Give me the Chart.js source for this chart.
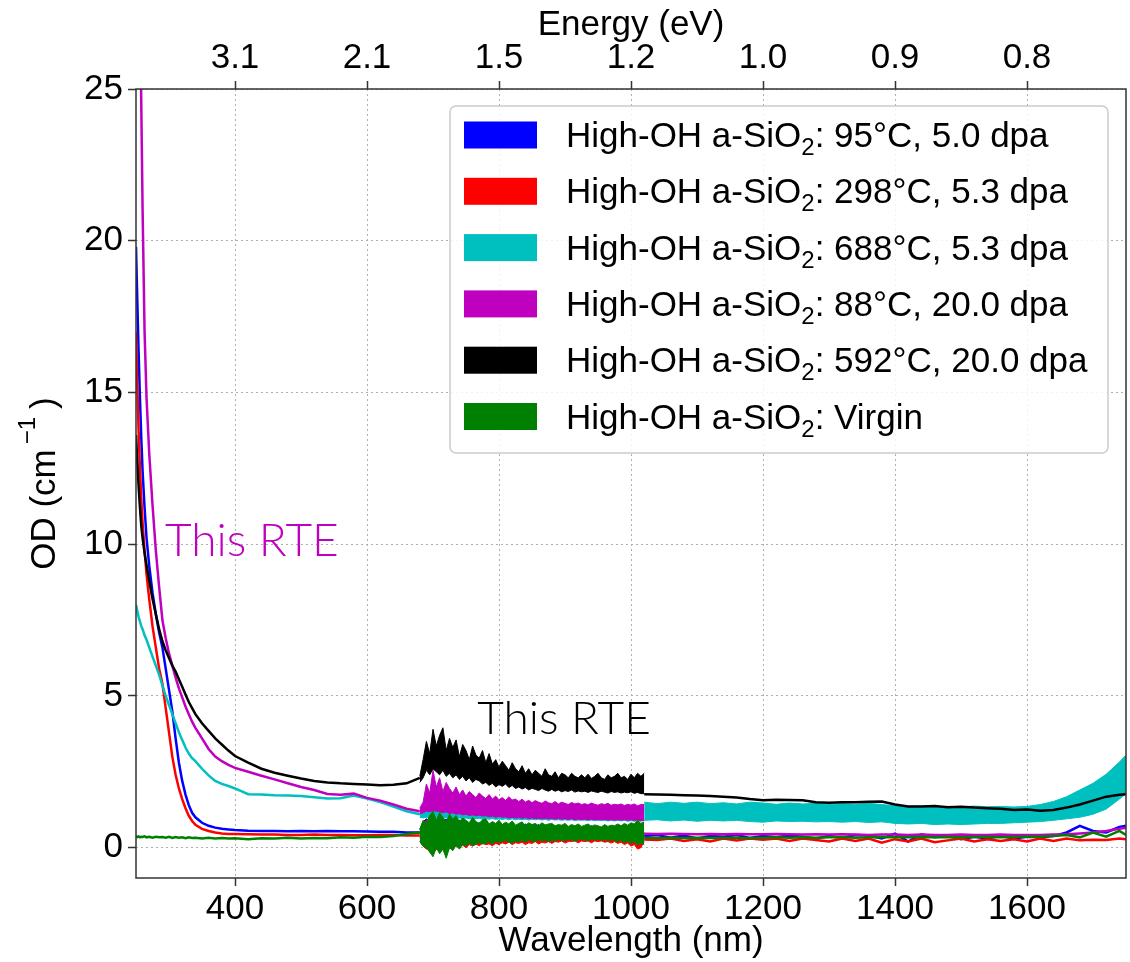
<!DOCTYPE html>
<html>
<head>
<meta charset="utf-8">
<script src="https://cdn.jsdelivr.net/npm/chart.js@4.4.1/dist/chart.umd.min.js"></script>
<style>
html, body { margin: 0; padding: 0; background: #fff; }
#wrap { width: 1130px; height: 962px; }
</style>
</head>
<body>
<div id="wrap"><canvas id="c" width="1130" height="962"></canvas></div>
<script>
// axis ticks
var wlTicks = [400, 600, 800, 1000, 1200, 1400, 1600];
var energyLabels = ["3.1", "2.1", "1.5", "1.2", "1.0", "0.9", "0.8"];
var odTicks = [0, 5, 10, 15, 20, 25];

// legend text (prefix + subscript + rest)
var legendRest = ["95\u00B0C, 5.0 dpa", "298\u00B0C, 5.3 dpa", "688\u00B0C, 5.3 dpa",
                  "88\u00B0C, 20.0 dpa", "592\u00B0C, 20.0 dpa", "Virgin"];

// wavelength grids (nm)
var smoothWl = [250,252,254,256,258,260,263,266,270,275,
                280,285,290,295,300,305,310,315,320,325,
                330,335,340,350,360,370,380,390,400,420,
                440,460,480,500,520,540,560,580,600,620,
                640,660,680];
var noisyWl = [680,685,690,695,700,705,710,715,720,725,
               730,735,740,745,750,755,760,765,770,775,
               780,785,790,795,800,805,810,815,820,825,
               830,835,840,845,850,855,860,865,870,875,
               880,885,890,895,900,905,910,915,920,925,
               930,935,940,945,950,955,960,965,970,975,
               980,985,990,995,1000,1005,1010,1015,1020];
var tailWl = [1020,1040,1060,1080,1100,1120,1140,1160,1180,1200,
              1220,1240,1260,1280,1300,1320,1340,1360,1380,1400,
              1420,1440,1460,1480,1500,1520,1540,1560,1580,1600,
              1620,1640,1660,1680,1700,1720,1740,1750];

// 95C 5.0 dpa (blue)
var blueSmooth = [19.8,18.0,16.3,14.8,13.5,12.4,11.2,10.2,9.3,8.4,
                  7.7,7.1,6.6,5.9,5.2,4.5,3.6,2.8,2.2,1.75,
                  1.4,1.15,1.0,0.82,0.72,0.66,0.62,0.6,0.58,0.56,
                  0.55,0.55,0.54,0.55,0.54,0.55,0.54,0.54,0.53,0.52,
                  0.52,0.5,0.5];
var blueHi = [0.6,0.85,0.95,0.85,1.05,0.9,1.0,0.85,0.95,0.82,
              0.9,0.8,0.92,0.8,0.85,0.78,0.88,0.76,0.82,0.75,
              0.85,0.74,0.8,0.72,0.82,0.7,0.78,0.7,0.8,0.7,
              0.76,0.68,0.78,0.68,0.74,0.68,0.76,0.66,0.72,0.66,
              0.74,0.66,0.72,0.66,0.74,0.65,0.7,0.65,0.72,0.64,
              0.7,0.64,0.72,0.63,0.7,0.64,0.68,0.62,0.7,0.62,
              0.72,0.64,0.74,0.64,0.75,0.66,0.8,0.7,0.45];
var blueLo = [0.35,0.2,0.05,0.15,-0.1,0.05,0.0,0.1,-0.05,0.1,
              0.1,0.15,0.12,0.18,0.1,0.2,0.15,0.22,0.14,0.22,
              0.18,0.24,0.15,0.24,0.2,0.26,0.18,0.26,0.2,0.26,
              0.22,0.28,0.2,0.27,0.24,0.28,0.22,0.28,0.24,0.29,
              0.22,0.28,0.26,0.3,0.24,0.28,0.27,0.3,0.25,0.3,
              0.28,0.3,0.25,0.3,0.28,0.3,0.26,0.29,0.25,0.3,
              0.24,0.28,0.2,0.26,0.18,0.22,0.15,0.2,0.35];
var blueTail = [0.38,0.42,0.33,0.4,0.3,0.38,0.36,0.42,0.32,0.38,
                0.34,0.4,0.36,0.3,0.38,0.32,0.42,0.4,0.3,0.46,
                0.2,0.44,0.34,0.38,0.28,0.36,0.3,0.38,0.3,0.36,
                0.34,0.38,0.5,0.72,0.55,0.5,0.68,0.72];

// 298C 5.3 dpa (red)
var redSmooth = [17.0,15.2,13.7,12.5,11.5,10.7,9.8,9.0,8.2,7.3,
                 6.6,5.9,5.4,4.6,3.8,3.0,2.4,1.95,1.6,1.3,
                 1.05,0.88,0.75,0.62,0.55,0.5,0.47,0.45,0.45,0.44,
                 0.43,0.43,0.42,0.42,0.43,0.42,0.42,0.41,0.41,0.42,
                 0.42,0.4,0.4];
var redHi = [0.6,0.8,0.9,0.8,1.0,0.85,0.95,0.8,0.9,0.78,
             0.85,0.75,0.9,0.75,0.8,0.72,0.85,0.7,0.78,0.7,
             0.8,0.7,0.75,0.68,0.78,0.66,0.72,0.65,0.75,0.65,
             0.7,0.64,0.72,0.62,0.68,0.64,0.7,0.62,0.66,0.62,
             0.68,0.6,0.65,0.62,0.68,0.6,0.64,0.6,0.66,0.6,
             0.63,0.6,0.66,0.58,0.64,0.6,0.62,0.58,0.64,0.58,
             0.66,0.6,0.68,0.6,0.7,0.62,0.75,0.65,0.5];
var redLo = [0.2,0.05,-0.05,0.0,-0.2,-0.05,-0.1,0.0,-0.25,0.0,
             0.0,0.05,0.02,0.08,0.0,0.1,0.05,0.12,0.06,0.14,
             0.1,0.12,0.06,0.14,0.1,0.16,0.12,0.18,0.1,0.16,
             0.14,0.18,0.1,0.16,0.14,0.2,0.12,0.18,0.15,0.2,
             0.14,0.2,0.18,0.22,0.15,0.2,0.2,0.22,0.16,0.22,
             0.2,0.22,0.16,0.22,0.2,0.22,0.18,0.2,0.15,0.2,
             0.14,0.18,0.1,0.15,0.05,0.1,-0.05,0.0,0.2];
var redTail = [0.27,0.25,0.3,0.22,0.28,0.2,0.3,0.24,0.3,0.26,
               0.3,0.22,0.3,0.25,0.2,0.3,0.22,0.3,0.16,0.28,
               0.2,0.3,0.18,0.24,0.3,0.2,0.28,0.22,0.28,0.2,
               0.3,0.22,0.3,0.24,0.26,0.25,0.3,0.28];

// 688C 5.3 dpa (cyan)
var cyanSmooth = [8.0,7.8,7.6,7.45,7.3,7.2,7.0,6.85,6.6,6.3,
                  6.0,5.7,5.35,5.0,4.7,4.4,4.1,3.8,3.55,3.3,
                  3.1,2.95,2.85,2.6,2.38,2.2,2.1,2.03,1.95,1.76,
                  1.75,1.73,1.72,1.7,1.66,1.62,1.63,1.72,1.62,1.5,
                  1.35,1.2,1.1];
var cyanHi = [1.1,1.2,1.3,1.25,1.35,1.28,1.3,1.25,1.28,1.22,
              1.26,1.22,1.25,1.2,1.24,1.2,1.23,1.18,1.22,1.18,
              1.2,1.17,1.2,1.16,1.19,1.16,1.18,1.15,1.18,1.15,
              1.17,1.14,1.17,1.14,1.16,1.14,1.16,1.13,1.15,1.13,
              1.15,1.13,1.15,1.12,1.14,1.12,1.14,1.12,1.13,1.12,
              1.13,1.11,1.13,1.11,1.13,1.11,1.12,1.1,1.12,1.1,
              1.12,1.1,1.12,1.1,1.12,1.1,1.12,1.1,1.3];
var cyanLo = [1.0,0.98,1.0,0.96,1.02,0.97,1.0,0.96,1.0,0.97,
              0.99,0.96,0.98,0.95,0.98,0.95,0.97,0.95,0.97,0.94,
              0.96,0.94,0.96,0.93,0.95,0.93,0.95,0.92,0.95,0.92,
              0.94,0.92,0.94,0.91,0.94,0.92,0.93,0.91,0.93,0.9,
              0.93,0.91,0.92,0.9,0.92,0.9,0.92,0.89,0.91,0.9,
              0.91,0.89,0.91,0.89,0.9,0.89,0.9,0.88,0.9,0.88,
              0.9,0.88,0.9,0.87,0.89,0.87,0.89,0.87,0.9];
var cyanTailHi = [1.5,1.45,1.5,1.46,1.5,1.45,1.48,1.44,1.5,1.47,
                  1.43,1.47,1.44,1.46,1.42,1.45,1.43,1.46,1.42,1.38,
                  1.36,1.37,1.35,1.36,1.34,1.37,1.35,1.36,1.34,1.36,
                  1.42,1.52,1.68,1.9,2.12,2.42,2.82,3.05];
var cyanTailLo = [0.9,0.92,0.88,0.91,0.87,0.9,0.88,0.9,0.86,0.84,
                  0.88,0.86,0.87,0.85,0.86,0.84,0.86,0.83,0.85,0.8,
                  0.78,0.8,0.76,0.78,0.76,0.78,0.8,0.8,0.82,0.84,
                  0.86,0.9,0.95,1.0,1.1,1.27,1.6,1.78];

// 88C 20.0 dpa (magenta)
var magentaSmooth = [40,36,32,28,24.5,21,17.0,14.8,13.0,11.3,
                     9.8,8.6,7.5,6.9,6.4,6.0,5.6,5.25,4.95,4.65,
                     4.4,4.15,3.95,3.6,3.25,3.0,2.85,2.73,2.63,2.5,
                     2.37,2.25,2.12,2.0,1.9,1.77,1.74,1.78,1.64,1.55,
                     1.42,1.28,1.2];
var magentaHi = [1.3,1.5,2.1,1.8,2.55,2.0,2.3,1.85,2.15,1.95,
                 1.8,2.0,1.75,1.9,1.7,1.85,1.75,1.65,1.8,1.7,
                 1.62,1.75,1.6,1.7,1.58,1.65,1.55,1.68,1.57,1.6,
                 1.52,1.6,1.5,1.56,1.48,1.55,1.5,1.46,1.54,1.48,
                 1.45,1.52,1.44,1.5,1.46,1.42,1.49,1.44,1.47,1.42,
                 1.45,1.41,1.47,1.43,1.4,1.45,1.42,1.46,1.4,1.43,
                 1.41,1.44,1.39,1.43,1.4,1.44,1.38,1.42,1.42];
var magentaLo = [1.12,1.15,1.2,1.18,1.22,1.2,1.18,1.15,1.18,1.12,
                 1.15,1.1,1.12,1.08,1.1,1.06,1.08,1.05,1.07,1.04,
                 1.05,1.02,1.04,1.0,1.03,1.0,1.01,0.98,1.0,0.98,
                 0.99,0.97,0.99,0.96,0.98,0.96,0.97,0.95,0.97,0.95,
                 0.96,0.94,0.96,0.94,0.95,0.93,0.95,0.93,0.94,0.93,
                 0.94,0.92,0.94,0.92,0.93,0.92,0.93,0.91,0.92,0.91,
                 0.92,0.91,0.92,0.9,0.92,0.9,0.91,0.89,0.9];
var magentaTail = [0.46,0.45,0.46,0.45,0.44,0.45,0.44,0.45,0.44,0.44,
                   0.45,0.44,0.43,0.44,0.43,0.44,0.43,0.42,0.43,0.43,
                   0.42,0.43,0.42,0.42,0.43,0.42,0.42,0.43,0.42,0.42,
                   0.42,0.43,0.44,0.47,0.5,0.55,0.62,0.66];

// 592C 20.0 dpa (black)
var blackSmooth = [13.6,12.7,11.9,11.2,10.6,10.2,9.7,9.3,8.8,8.2,
                   7.7,7.2,6.8,6.5,6.25,6.0,5.8,5.55,5.3,5.05,
                   4.8,4.6,4.4,4.1,3.85,3.6,3.4,3.2,3.02,2.8,
                   2.6,2.47,2.37,2.28,2.2,2.15,2.12,2.1,2.08,2.06,
                   2.07,2.12,2.3];
var blackHi = [2.35,2.9,3.5,3.1,3.9,3.35,3.7,3.95,3.2,3.6,
               3.3,3.55,3.0,3.4,3.2,2.9,3.35,3.05,2.95,3.2,
               2.8,3.1,2.75,2.9,2.65,2.85,2.7,2.55,2.8,2.6,
               2.5,2.7,2.45,2.6,2.4,2.55,2.45,2.35,2.6,2.4,
               2.35,2.5,2.3,2.45,2.4,2.3,2.45,2.35,2.3,2.4,
               2.3,2.42,2.28,2.35,2.45,2.3,2.25,2.4,2.3,2.35,
               2.45,2.3,2.35,2.25,2.42,2.3,2.45,2.35,2.45];
var blackLo = [2.15,2.3,2.55,2.4,2.6,2.5,2.4,2.55,2.35,2.45,
               2.3,2.4,2.25,2.35,2.2,2.3,2.15,2.25,2.2,2.1,
               2.15,2.05,2.12,2.0,2.08,2.02,2.1,1.98,2.05,1.95,
               2.0,1.93,1.98,1.9,1.96,1.92,1.88,1.95,1.9,1.86,
               1.92,1.86,1.9,1.84,1.88,1.85,1.9,1.83,1.87,1.84,
               1.86,1.82,1.87,1.84,1.82,1.86,1.83,1.8,1.85,1.82,
               1.84,1.8,1.83,1.81,1.84,1.79,1.82,1.78,1.78];
var blackTail = [1.76,1.75,1.74,1.73,1.72,1.7,1.68,1.65,1.6,1.56,
                 1.58,1.57,1.56,1.5,1.48,1.5,1.5,1.51,1.52,1.42,
                 1.36,1.36,1.37,1.33,1.35,1.32,1.3,1.28,1.24,1.26,
                 1.22,1.24,1.32,1.42,1.55,1.68,1.74,1.76];

// Virgin (green)
var greenSmooth = [0.38,0.35,0.37,0.34,0.36,0.35,0.37,0.34,0.36,0.33,
                   0.36,0.34,0.35,0.33,0.36,0.32,0.35,0.33,0.34,0.31,
                   0.34,0.32,0.33,0.3,0.33,0.3,0.32,0.3,0.31,0.28,
                   0.31,0.3,0.33,0.3,0.32,0.31,0.34,0.33,0.36,0.35,
                   0.38,0.45,0.5];
var greenHi = [0.6,0.9,0.8,1.05,1.2,0.9,1.15,1.0,0.85,1.1,
               0.95,1.05,0.85,0.98,0.9,0.82,1.0,0.86,0.8,0.92,
               0.95,0.78,0.86,0.8,0.9,0.76,0.84,0.78,0.88,0.74,
               0.8,0.85,0.73,0.82,0.76,0.8,0.72,0.82,0.75,0.78,
               0.8,0.72,0.76,0.74,0.8,0.7,0.76,0.72,0.78,0.7,
               0.74,0.78,0.7,0.75,0.72,0.68,0.76,0.7,0.74,0.72,
               0.78,0.72,0.8,0.74,0.82,0.78,0.9,0.8,0.85];
var greenLo = [0.2,0.05,0.0,-0.15,-0.3,0.0,-0.2,-0.05,-0.35,0.0,
               -0.1,0.08,-0.05,0.12,0.05,0.15,0.08,0.1,0.18,0.12,
               0.15,0.2,0.1,0.22,0.16,0.2,0.24,0.18,0.15,0.22,
               0.2,0.24,0.18,0.26,0.22,0.2,0.26,0.22,0.25,0.2,
               0.24,0.22,0.27,0.24,0.22,0.28,0.25,0.22,0.26,0.28,
               0.26,0.22,0.28,0.25,0.27,0.24,0.28,0.22,0.26,0.24,
               0.2,0.25,0.16,0.22,0.14,0.2,0.08,0.15,0.1];
var greenTail = [0.33,0.32,0.33,0.32,0.33,0.32,0.33,0.33,0.32,0.33,
                 0.34,0.33,0.34,0.33,0.34,0.34,0.33,0.34,0.35,0.34,
                 0.34,0.35,0.34,0.35,0.34,0.35,0.35,0.34,0.35,0.36,
                 0.36,0.38,0.42,0.34,0.5,0.36,0.55,0.42];

var colBlue = "#0000ff", colRed = "#ff0000", colCyan = "#00bfbf",
    colMagenta = "#bf00bf", colBlack = "#000000", colGreen = "#008000";
var legendColors = [colBlue, colRed, colCyan, colMagenta, colBlack, colGreen];

var FONT = "'Liberation Sans', Arial, Helvetica, sans-serif";

function pts(wl, od){
	return wl.map(function(w, i){ return {x: w, y: od[i]}; });
}

function lineSet(color, data, order){
	return {
		data: data, order: order,
		borderColor: color, backgroundColor: color,
		borderWidth: 2.5, pointRadius: 0, fill: false, tension: 0
	};
}

// lower edge then upper edge filled down to it
function bandSets(color, wl, lo, hi, order){
	return [
		{data: pts(wl, lo), order: order, borderColor: color, borderWidth: 1,
		 pointRadius: 0, fill: false, tension: 0},
		{data: pts(wl, hi), order: order, borderColor: color, backgroundColor: color,
		 borderWidth: 1, pointRadius: 0, fill: "-1", tension: 0}
	];
}

// a series = smooth line, noisy band, tail line (or band)
function series(color, order, smooth, lo, hi, tail){
	return [lineSet(color, pts(smoothWl, smooth), order)]
		.concat(bandSets(color, noisyWl, lo, hi, order))
		.concat(tail ? [lineSet(color, pts(tailWl, tail), order)] : []);
}

var datasets = [].concat(
	series(colBlue, 6, blueSmooth, blueLo, blueHi, blueTail),
	series(colRed, 5, redSmooth, redLo, redHi, redTail),
	series(colCyan, 4, cyanSmooth, cyanLo, cyanHi, null),
	bandSets(colCyan, tailWl, cyanTailLo, cyanTailHi, 4),
	series(colMagenta, 3, magentaSmooth, magentaLo, magentaHi, magentaTail),
	series(colBlack, 2, blackSmooth, blackLo, blackHi, blackTail),
	series(colGreen, 1, greenSmooth, greenLo, greenHi, greenTail)
);

function setTicks(vals){
	return function(scale){ scale.ticks = vals.map(function(v){ return {value: v}; }); };
}

var tickFont = {family: FONT, size: 35};
var gridBase = {color: "#b0b0b0", lineWidth: 1, tickColor: "#333", tickLength: 8, tickWidth: 1.5};

// frame, legend, y title, annotations
var decor = {
	id: "decor",
	afterDraw: function(chart){
		var ctx = chart.ctx, a = chart.chartArea;
		var xs = chart.scales.x, ys = chart.scales.y;
		ctx.save();

		// frame
		ctx.strokeStyle = "#333";
		ctx.lineWidth = 1.5;
		ctx.strokeRect(a.left, a.top, a.right - a.left, a.bottom - a.top);

		// legend
		var bx = a.right - 676, by = a.top + 17, bw = 658, bh = 347;
		ctx.beginPath();
		ctx.roundRect(bx, by, bw, bh, 6);
		ctx.fillStyle = "rgba(255,255,255,0.85)";
		ctx.fill();
		ctx.strokeStyle = "#cccccc";
		ctx.lineWidth = 1.5;
		ctx.stroke();
		for (var i = 0; i < legendRest.length; i++){
			var cy = by + 29 + i * 56.3;
			ctx.fillStyle = legendColors[i];
			ctx.fillRect(bx + 14, cy - 13.5, 73, 27);
			ctx.fillStyle = "#000";
			ctx.textBaseline = "alphabetic";
			ctx.textAlign = "left";
			var tx = bx + 116, base = cy + 12;
			ctx.font = "35px " + FONT;
			ctx.fillText("High-OH a-SiO", tx, base);
			tx += ctx.measureText("High-OH a-SiO").width;
			ctx.font = "24px " + FONT;
			ctx.fillText("2", tx, base + 8);
			tx += ctx.measureText("2").width;
			ctx.font = "35px " + FONT;
			ctx.fillText(": " + legendRest[i], tx, base);
		}

		// y title OD (cm^-1)
		ctx.translate(45, (a.top + a.bottom) / 2);
		ctx.rotate(-Math.PI / 2);
		ctx.fillStyle = "#000";
		ctx.textBaseline = "middle";
		ctx.font = "35px " + FONT;
		var p1 = "OD (cm", w1 = ctx.measureText(p1).width;
		ctx.font = "24px " + FONT;
		var p2 = "\u2212" + "1", w2 = ctx.measureText(p2).width;
		ctx.font = "35px " + FONT;
		var w3 = ctx.measureText(")").width;
		var total = w1 + 5 + w2 + 8 + w3;
		var sx = -total / 2;
		ctx.textAlign = "left";
		ctx.fillText(p1, sx, 0);
		ctx.font = "24px " + FONT;
		ctx.fillText(p2, sx + w1 + 5, -17);
		ctx.font = "35px " + FONT;
		ctx.fillText(")", sx + w1 + 5 + w2 + 8, 0);
		ctx.setTransform(1, 0, 0, 1, 0, 0);

		// annotations
		ctx.textBaseline = "alphabetic";
		ctx.textAlign = "left";
		ctx.font = "300 46px Lato, 'Open Sans', sans-serif";
		ctx.fillStyle = colMagenta;
		ctx.fillText("This RTE", xs.getPixelForValue(294), ys.getPixelForValue(9.6));
		ctx.fillStyle = "#000";
		ctx.fillText("This RTE", xs.getPixelForValue(767), ys.getPixelForValue(3.75));
		ctx.restore();
	}
};

new Chart(document.getElementById("c"), {
	type: "line",
	data: {datasets: datasets},
	plugins: [decor],
	options: {
		responsive: false,
		animation: false,
		devicePixelRatio: 1,
		layout: {padding: {left: 0, right: 4, top: 0, bottom: 0}},
		plugins: {legend: {display: false}, tooltip: {enabled: false}},
		scales: {
			x: {
				type: "linear", position: "bottom", min: 250, max: 1750,
				afterBuildTicks: setTicks(wlTicks),
				afterFit: function(s){ s.height = 84; },
				ticks: {font: tickFont, color: "#000", padding: 2, maxRotation: 0, autoSkip: false,
				        callback: function(v){ return String(v); }},
				grid: gridBase,
				border: {display: false, dash: [2, 3]},
				title: {display: true, text: "Wavelength (nm)", color: "#000",
				        font: tickFont, padding: {top: 0, bottom: 0}}
			},
			xTop: {
				type: "linear", position: "top", min: 250, max: 1750,
				afterBuildTicks: setTicks(wlTicks),
				afterFit: function(s){ s.height = 89; },
				ticks: {font: tickFont, color: "#000", padding: 2, maxRotation: 0, autoSkip: false,
				        callback: function(v){ return energyLabels[wlTicks.indexOf(v)]; }},
				grid: {color: "#b0b0b0", drawOnChartArea: false, tickColor: "#333", tickLength: 8, tickWidth: 1.5},
				border: {display: false},
				title: {display: true, text: "Energy (eV)", color: "#000",
				        font: tickFont, padding: {top: 4, bottom: 0}}
			},
			y: {
				min: -1, max: 25,
				afterBuildTicks: setTicks(odTicks),
				afterFit: function(s){ s.width = 136; },
				ticks: {font: tickFont, color: "#000", padding: 5},
				grid: gridBase,
				border: {display: false, dash: [2, 3]}
			}
		}
	}
});
</script>
</body>
</html>
